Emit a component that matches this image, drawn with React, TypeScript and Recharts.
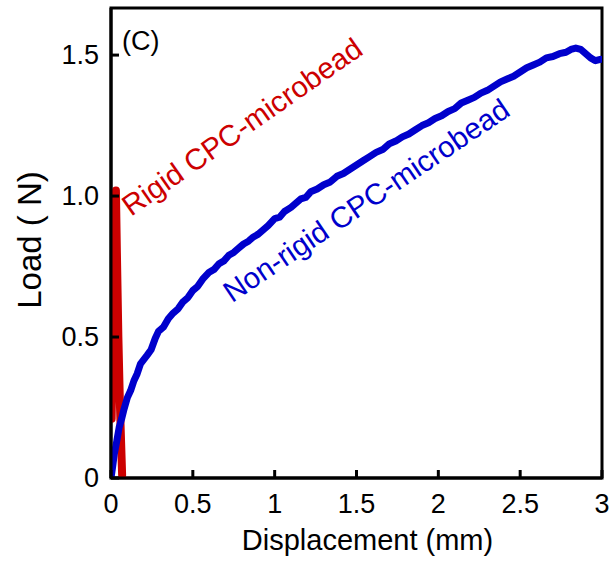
import React from 'react';
import { ComposedChart, Line, XAxis, YAxis, ReferenceArea, ReferenceDot, Label } from 'recharts';

const xTicks = [0, 0.5, 1, 1.5, 2, 2.5, 3];
const xTickLabels = ['0', '0.5', '1', '1.5', '2', '2.5', '3'];
const yTicks = [0, 0.5, 1.0, 1.5];
const yTickLabels = ['0', '0.5', '1.0', '1.5'];
const xMax = 3;
const yMax = 1.667;

const rigidX = [0.004, 0.01, 0.02, 0.03, 0.036, 0.045, 0.055, 0.068];
const rigidY = [0.21, 0.5, 0.85, 1.02, 0.8, 0.5, 0.25, 0.01];

const nonRigidX = [
  0, 0.01, 0.02, 0.035, 0.05, 0.065, 0.08, 0.1, 0.12, 0.14, 0.16, 0.18, 0.2, 0.22, 0.245, 0.27,
  0.29, 0.32, 0.35, 0.38, 0.41, 0.44, 0.47, 0.5, 0.53, 0.56, 0.6, 0.63, 0.66, 0.69, 0.72, 0.75,
  0.78, 0.81, 0.84, 0.87, 0.9, 0.93, 0.96, 1.0, 1.03, 1.06, 1.1, 1.13, 1.16, 1.19, 1.22, 1.26,
  1.3, 1.34, 1.38, 1.42, 1.46, 1.5, 1.54, 1.58, 1.62, 1.66, 1.7, 1.74, 1.78, 1.82, 1.86, 1.9,
  1.94, 1.98, 2.02, 2.06, 2.1, 2.14, 2.18, 2.22, 2.26, 2.3, 2.34, 2.38, 2.42, 2.46, 2.5, 2.54,
  2.58, 2.62, 2.66, 2.7, 2.74, 2.78, 2.81, 2.84, 2.87, 2.9, 2.93, 2.96, 2.99,
];
const nonRigidY = [
  0, 0.04, 0.085, 0.13, 0.18, 0.21, 0.245, 0.285, 0.31, 0.345, 0.37, 0.405, 0.42, 0.435, 0.455, 0.495,
  0.52, 0.535, 0.565, 0.585, 0.6, 0.625, 0.64, 0.665, 0.68, 0.705, 0.73, 0.74, 0.76, 0.77, 0.79, 0.8,
  0.815, 0.83, 0.84, 0.855, 0.865, 0.88, 0.895, 0.92, 0.925, 0.945, 0.96, 0.975, 0.99, 0.995, 1.015, 1.025,
  1.04, 1.05, 1.07, 1.08, 1.095, 1.11, 1.125, 1.14, 1.155, 1.165, 1.185, 1.195, 1.21, 1.22, 1.235, 1.25,
  1.26, 1.275, 1.285, 1.3, 1.31, 1.33, 1.34, 1.35, 1.365, 1.375, 1.39, 1.405, 1.415, 1.425, 1.44, 1.455,
  1.465, 1.475, 1.49, 1.495, 1.505, 1.51, 1.52, 1.525, 1.52, 1.505, 1.49, 1.48, 1.485,
];

const panelLabel = '(C)';
const rigidLabel = 'Rigid CPC-microbead';
const nonRigidLabel = 'Non-rigid CPC-microbead';
const xTitle = 'Displacement (mm)';
const yTitle = 'Load ( N)';

const rigidData = rigidX.map((x, i) => ({ x, y: rigidY[i] }));
const nonRigidData = nonRigidX.map((x, i) => ({ x, y: nonRigidY[i] }));

const FONT = '"Liberation Sans", Arial, Helvetica, sans-serif';
const RED = '#cc0000';
const BLUE = '#0000cc';

const XTick = (props: any) => {
  const { x, y, index } = props;
  return (
    <g>
      <line x1={x} x2={x} y1={y} y2={y - 8} stroke="#000" strokeWidth={3} />
      <text x={x} y={y + 35} textAnchor="middle" fontSize={27} fontFamily={FONT} fill="#000">
        {xTickLabels[index]}
      </text>
    </g>
  );
};

const YTick = (props: any) => {
  const { x, y, index } = props;
  return (
    <g>
      <line x1={x} x2={x + 8} y1={y} y2={y} stroke="#000" strokeWidth={3} />
      <text x={x - 12} y={y + 9} textAnchor="end" fontSize={27} fontFamily={FONT} fill="#000">
        {yTickLabels[index]}
      </text>
    </g>
  );
};

const makeText = (text: string, color: string, size: number, angle: number) => (p: any) => (
  <text
    x={p.cx}
    y={p.cy}
    fill={color}
    fontSize={size}
    fontFamily={FONT}
    transform={angle ? `rotate(${angle} ${p.cx} ${p.cy})` : undefined}
  >
    {text}
  </text>
);

export default function App() {
  return (
    <div style={{ position: 'absolute', left: 0, top: 0, background: '#fff' }}>
      <ComposedChart width={616} height={565} margin={{ top: 8, right: 14, bottom: 0, left: 0 }}>
        <XAxis
          type="number"
          dataKey="x"
          domain={[0, xMax]}
          ticks={xTicks}
          interval={0}
          height={87}
          tickSize={0}
          tickMargin={0}
          tick={<XTick />}
          axisLine={{ stroke: '#000', strokeWidth: 3 }}
          tickLine={false}
          allowDataOverflow
        >
          <Label
            content={(p: any) => (
              <text
                x={p.viewBox.x + p.viewBox.width / 2 + 11}
                y={p.viewBox.y + 72}
                textAnchor="middle"
                fontSize={29}
                fontFamily={FONT}
                fill="#000"
              >
                {xTitle}
              </text>
            )}
          />
        </XAxis>
        <YAxis
          type="number"
          domain={[0, yMax]}
          ticks={yTicks}
          interval={0}
          width={111}
          tickSize={0}
          tickMargin={0}
          tick={<YTick />}
          axisLine={{ stroke: '#000', strokeWidth: 3 }}
          tickLine={false}
          allowDataOverflow
        >
          <Label
            content={(p: any) => {
              const cx = 29;
              const cy = p.viewBox.y + p.viewBox.height / 2 - 3;
              return (
                <text
                  x={cx}
                  y={cy}
                  textAnchor="middle"
                  dominantBaseline="central"
                  fontSize={33}
                  fontFamily={FONT}
                  fill="#000"
                  transform={`rotate(-90 ${cx} ${cy})`}
                >
                  {yTitle}
                </text>
              );
            }}
          />
        </YAxis>
        <ReferenceArea
          x1={0}
          x2={xMax}
          y1={0}
          y2={yMax}
          fill="none"
          stroke="#000"
          strokeWidth={3}
          ifOverflow="visible"
        />
        <Line
          data={rigidData}
          dataKey="y"
          type="linear"
          stroke={RED}
          strokeWidth={8}
          dot={false}
          strokeLinejoin="round"
          strokeLinecap="round"
          isAnimationActive={false}
        />
        <Line
          data={nonRigidData}
          dataKey="y"
          type="linear"
          stroke={BLUE}
          strokeWidth={7}
          dot={false}
          strokeLinejoin="round"
          strokeLinecap="round"
          isAnimationActive={false}
        />
        <ReferenceDot x={0.067} y={1.518} r={1} ifOverflow="visible" shape={makeText(panelLabel, '#000', 27, 0)} />
        <ReferenceDot x={0.122} y={0.926} r={1} ifOverflow="visible" shape={makeText(rigidLabel, RED, 29.5, -35)} />
        <ReferenceDot x={0.739} y={0.62} r={1} ifOverflow="visible" shape={makeText(nonRigidLabel, BLUE, 29.5, -34)} />
      </ComposedChart>
    </div>
  );
}
